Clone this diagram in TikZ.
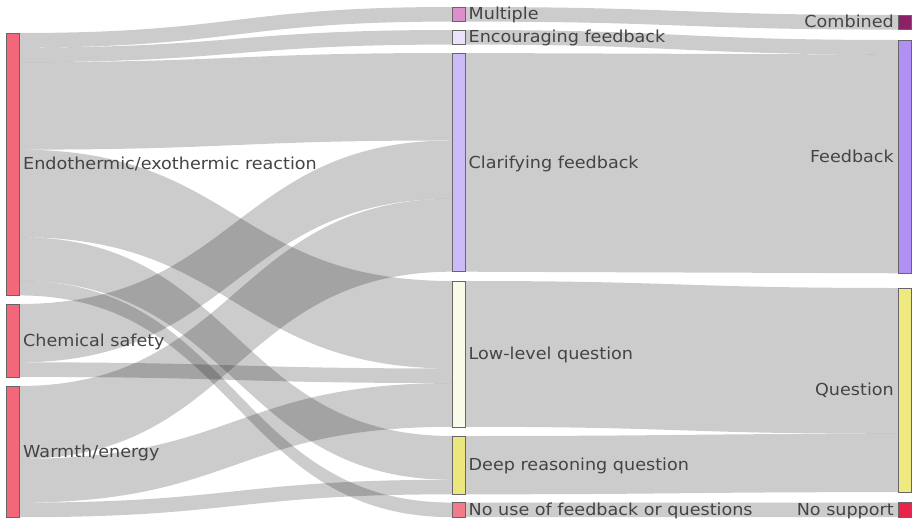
\documentclass[tikz,border=0pt]{standalone}
\usepackage{fontspec}
\setmainfont{DejaVu Sans}[FakeStretch=1.066]
\usepackage{tikz}
\usetikzlibrary{positioning,calc,backgrounds}

\definecolor{srcred}{HTML}{F2687A}
\definecolor{multcol}{HTML}{DD8FCB}
\definecolor{enccol}{HTML}{EAE2FA}
\definecolor{clarcol}{HTML}{CDBBF7}
\definecolor{lowcol}{HTML}{FAFAE8}
\definecolor{deepcol}{HTML}{EBE67D}
\definecolor{nousecol}{HTML}{F27A8A}
\definecolor{combcol}{HTML}{8B2268}
\definecolor{fbcol}{HTML}{B18FF5}
\definecolor{qcol}{HTML}{EEEA80}
\definecolor{noscol}{HTML}{E8244A}
\definecolor{lbltext}{HTML}{444444}

\newcommand{\unitpx}{14.58pt}

\tikzset{
  bar/.style={draw=black!60, line width=0.5pt, inner sep=0pt, outer sep=0pt,
    minimum width=13.5pt, minimum height=#1*\unitpx, anchor=north west},
  lbl/.style={text=lbltext, font=\fontsize{16.5}{18}\selectfont, inner sep=0pt,
    text height=0.73em, text depth=0pt, yshift=-2pt},
  band/.style={fill=black, fill opacity=0.2},
}

% one band: source, offset, target, offset, width (all in units)
\newcommand{\flow}[5]{%
  \fill[band] let \p1=($(#1.north east)+(0pt,-#2*\unitpx)$),
                  \p2=($(#3.north west)+(0pt,-#4*\unitpx)$),
                  \p3=($(\p1)+(0pt,-#5*\unitpx)$),
                  \p4=($(\p2)+(0pt,-#5*\unitpx)$),
                  \p5=($(\p1)!0.5!(\p2)$) in
    (\p1) .. controls (\x5,\y1) and (\x5,\y2) .. (\p2)
    -- (\p4) .. controls (\x5,\y4) and (\x5,\y3) .. (\p3) -- cycle;}

\begin{document}
\begin{tikzpicture}[x=1pt, y=-1pt]
    \useasboundingbox (0,0) rectangle (916,522);

    % topics
    \node[bar=18, fill=srcred] (endo) at (6,33) {};
    \node[bar=5, fill=srcred] (chem) at (6,304) {};
    \node[bar=9, fill=srcred] (warm) at (6,386) {};

    % support types
    \node[bar=1, fill=multcol] (mult) at (452,7) {};
    \node[bar=1, fill=enccol] (enc) at (452,30) {};
    \node[bar=15, fill=clarcol] (clar) at (452,53) {};
    \node[bar=10, fill=lowcol] (low) at (452,281) {};
    \node[bar=4, fill=deepcol] (deep) at (452,436) {};
    \node[bar=1, fill=nousecol] (nouse) at (452,502.6) {};

    % groups
    \node[bar=1, fill=combcol] (comb) at (898,15) {};
    \node[bar=16, fill=fbcol] (fb) at (898,40) {};
    \node[bar=14, fill=qcol] (quest) at (898,288) {};
    \node[bar=1, fill=noscol] (nosup) at (898,502.6) {};

    % labels
    \node[lbl, right=3.5pt of endo] {Endothermic/exothermic reaction};
    \node[lbl, right=3.5pt of chem] {Chemical safety};
    \node[lbl, right=3.5pt of warm] {Warmth/energy};
    \node[lbl, right=3pt of mult] {Multiple};
    \node[lbl, right=3pt of enc] {Encouraging feedback};
    \node[lbl, right=3pt of clar] {Clarifying feedback};
    \node[lbl, right=3pt of low] {Low-level question};
    \node[lbl, right=3pt of deep] {Deep reasoning question};
    \node[lbl, right=3pt of nouse] {No use of feedback or questions};
    \node[lbl, left=4pt of comb] {Combined};
    \node[lbl, left=4pt of fb] {Feedback};
    \node[lbl, left=4pt of quest] {Question};
    \node[lbl, left=4pt of nosup] {No support};

    % links
    \begin{scope}[on background layer]
    \flow{endo}{0}{mult}{0}{1}
    \flow{endo}{1}{enc}{0}{1}
    \flow{endo}{2}{clar}{0}{6}
    \flow{endo}{8}{low}{0}{6}
    \flow{endo}{14}{deep}{0}{3}
    \flow{endo}{17}{nouse}{0}{1}
    \flow{chem}{0}{clar}{6}{4}
    \flow{chem}{4}{low}{6}{1}
    \flow{warm}{0}{clar}{10}{5}
    \flow{warm}{5}{low}{7}{3}
    \flow{warm}{8}{deep}{3}{1}
    \flow{mult}{0}{comb}{0}{1}
    \flow{enc}{0}{fb}{0}{1}
    \flow{clar}{0}{fb}{1}{15}
    \flow{low}{0}{quest}{0}{10}
    \flow{deep}{0}{quest}{10}{4}
    \flow{nouse}{0}{nosup}{0}{1}
    \end{scope}
\end{tikzpicture}
\end{document}
